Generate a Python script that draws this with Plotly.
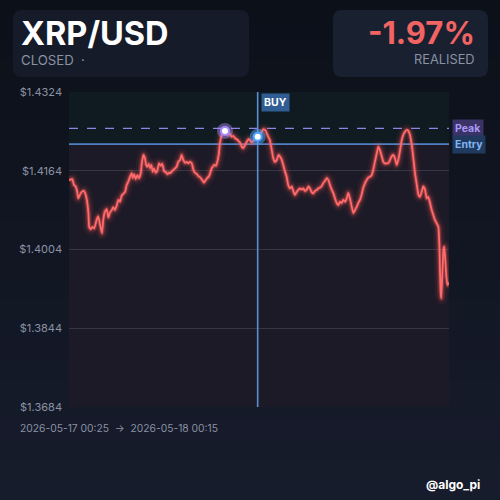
import pandas as pd
import plotly.graph_objects as go

# Price trace, minutes after the window start (2026-05-17 00:25)
minutes = [
    0, 12, 19, 25, 31, 35, 41, 48, 56, 61, 67, 73, 76, 82, 88, 95, 104, 110, 117, 124,
    129, 135, 142, 148, 154, 161, 167, 173, 180, 186, 192, 198, 204, 211, 217, 223, 230, 236, 240, 245,
    251, 257, 263, 270, 274, 280, 286, 290, 295, 300, 305, 310, 315, 320, 326, 332, 339, 345, 351, 358,
    365, 371, 377, 380, 386, 393, 399, 405, 411, 418, 424, 430, 437, 443, 449, 455, 462, 468, 474, 481,
    487, 493, 499, 508, 514, 520, 527, 531, 537, 541, 547, 553, 558, 564, 568, 575, 581, 587, 593, 599,
    606, 612, 618, 625, 631, 637, 644, 650, 656, 662, 669, 675, 681, 688, 694, 700, 710, 719, 725, 731,
    738, 744, 750, 756, 763, 769, 775, 782, 788, 794, 800, 806, 813, 819, 825, 832, 838, 844, 850, 857,
    863, 869, 876, 882, 888, 894, 901, 907, 913, 919, 926, 932, 938, 945, 951, 957, 963, 970, 976, 982,
    989, 995, 1001, 1007, 1013, 1020, 1026, 1032, 1039, 1045, 1051, 1057, 1064, 1070, 1076, 1083, 1089, 1095, 1101, 1107,
    1114, 1120, 1126, 1133, 1139, 1145, 1151, 1158, 1164, 1170, 1177, 1183, 1189, 1196, 1202, 1208, 1214, 1220, 1227, 1233,
    1239, 1246, 1252, 1258, 1264, 1271, 1277, 1283, 1290, 1296, 1302, 1309, 1315, 1321, 1327, 1333, 1340, 1346, 1352, 1359,
    1365, 1371, 1377, 1384, 1390, 1394, 1396, 1399, 1401, 1405, 1409, 1412, 1416, 1420, 1424, 1430,
]
prices = [
    1.4145, 1.4147, 1.4135, 1.4132, 1.4121, 1.4108, 1.4115, 1.4121, 1.4123, 1.4118, 1.4105, 1.4078, 1.4050, 1.4045, 1.4050, 1.4047, 1.4064, 1.4071, 1.4054, 1.4037,
    1.4064, 1.4081, 1.4086, 1.4069, 1.4079, 1.4084, 1.4090, 1.4084, 1.4094, 1.4105, 1.4101, 1.4113, 1.4117, 1.4121, 1.4135, 1.4142, 1.4152, 1.4159, 1.4149, 1.4157,
    1.4147, 1.4155, 1.4149, 1.4159, 1.4179, 1.4196, 1.4189, 1.4176, 1.4172, 1.4178, 1.4169, 1.4176, 1.4162, 1.4169, 1.4160, 1.4164, 1.4179, 1.4174, 1.4178, 1.4163,
    1.4161, 1.4157, 1.4160, 1.4159, 1.4162, 1.4166, 1.4169, 1.4172, 1.4182, 1.4186, 1.4196, 1.4186, 1.4180, 1.4182, 1.4179, 1.4182, 1.4179, 1.4166, 1.4160, 1.4157,
    1.4153, 1.4151, 1.4147, 1.4140, 1.4145, 1.4149, 1.4153, 1.4159, 1.4169, 1.4172, 1.4176, 1.4174, 1.4182, 1.4199, 1.4220, 1.4237, 1.4243, 1.4245, 1.4240, 1.4237,
    1.4239, 1.4233, 1.4235, 1.4230, 1.4228, 1.4225, 1.4221, 1.4213, 1.4210, 1.4216, 1.4223, 1.4228, 1.4226, 1.4221, 1.4225, 1.4228, 1.4233, 1.4237, 1.4243, 1.4248,
    1.4247, 1.4240, 1.4233, 1.4226, 1.4206, 1.4189, 1.4182, 1.4186, 1.4196, 1.4193, 1.4187, 1.4176, 1.4162, 1.4152, 1.4135, 1.4128, 1.4132, 1.4123, 1.4115, 1.4121,
    1.4125, 1.4128, 1.4126, 1.4128, 1.4123, 1.4125, 1.4132, 1.4128, 1.4121, 1.4118, 1.4123, 1.4125, 1.4128, 1.4130, 1.4133, 1.4139, 1.4143, 1.4149, 1.4145, 1.4135,
    1.4125, 1.4118, 1.4108, 1.4099, 1.4094, 1.4101, 1.4098, 1.4105, 1.4101, 1.4108, 1.4119, 1.4108, 1.4091, 1.4078, 1.4084, 1.4091, 1.4099, 1.4105, 1.4115, 1.4129,
    1.4139, 1.4145, 1.4150, 1.4152, 1.4155, 1.4166, 1.4182, 1.4199, 1.4213, 1.4206, 1.4193, 1.4182, 1.4179, 1.4179, 1.4180, 1.4186, 1.4193, 1.4196, 1.4189, 1.4176,
    1.4186, 1.4206, 1.4226, 1.4237, 1.4243, 1.4247, 1.4245, 1.4237, 1.4216, 1.4189, 1.4159, 1.4135, 1.4115, 1.4111, 1.4121, 1.4132, 1.4125, 1.4108, 1.4111, 1.4098,
    1.4084, 1.4074, 1.4064, 1.4057, 1.4050, 1.4010, 1.3962, 1.3915, 1.3905, 1.3956, 1.4003, 1.4010, 1.3983, 1.3949, 1.3932, 1.3937,
]

start = pd.Timestamp("2026-05-17 00:25")
end = pd.Timestamp("2026-05-18 00:15")
entry_minute = 710
entry_price = 1.4218
peak_price = 1.4250
y_ticks = [1.3684, 1.3844, 1.4004, 1.4164, 1.4324]
y_ticktext = ["$1.3684", "$1.3844", "$1.4004", "$1.4164", "$1.4324"]

FONT = "Inter"
RED = "#ff6b6b"
BLUE = "#5a8fd6"
PURPLE = "#8e84e6"
GREY_TXT = "#8a92a4"

times = start + pd.to_timedelta(minutes, unit="min")
entry_idx = minutes.index(entry_minute)
peak_idx = max(range(entry_idx), key=lambda i: prices[i])

# plot area in pixels: x 69..449, y 92..407
L, R, T, B = 69, 449, 92, 407


def px(x):
    return (x - L) / (R - L)


def py(y):
    return (B - y) / (B - T)


def rounded_rect(x0, y0, x1, y1, r):
    """Rounded rectangle path in paper coords from pixel box."""
    a, b, c, d = px(x0), py(y1), px(x1), py(y0)
    rx, ry = r / (R - L), r / (B - T)
    return (f"M {a + rx},{d} L {c - rx},{d} Q {c},{d} {c},{d - ry} "
            f"L {c},{b + ry} Q {c},{b} {c - rx},{b} L {a + rx},{b} "
            f"Q {a},{b} {a},{b + ry} L {a},{d - ry} Q {a},{d} {a + rx},{d} Z")


fig = go.Figure()

# glow under the price line
for w, op in [(12, 0.07), (7, 0.14), (4, 0.35)]:
    fig.add_trace(go.Scatter(x=times, y=prices, mode="lines",
                             line=dict(color=f"rgba(255,90,90,{op})", width=w, shape="spline", smoothing=0.4),
                             hoverinfo="skip", showlegend=False))
fig.add_trace(go.Scatter(x=times, y=prices, mode="lines",
                         line=dict(color=RED, width=1.8, shape="spline", smoothing=0.4),
                         showlegend=False))

# peak and entry markers
for idx, ring, glow in [(peak_idx, "#a78bfa", "rgba(167,139,250,0.45)"),
                        (entry_idx, "#4da3ff", "rgba(77,163,255,0.5)")]:
    fig.add_trace(go.Scatter(x=[times[idx]], y=[prices[idx]], mode="markers",
                             marker=dict(size=16, color=glow), hoverinfo="skip", showlegend=False))
    fig.add_trace(go.Scatter(x=[times[idx]], y=[prices[idx]], mode="markers",
                             marker=dict(size=8, color="white", line=dict(color=ring, width=2)),
                             showlegend=False))

shapes = []
# page background gradient, top to bottom
n_bands = 25
c0, c1 = (12, 16, 25), (23, 28, 44)
for i in range(n_bands):
    f = i / (n_bands - 1)
    col = tuple(round(c0[k] + (c1[k] - c0[k]) * f) for k in range(3))
    shapes.append(dict(type="rect", xref="paper", yref="paper", layer="below",
                       x0=px(0), x1=px(500), y0=py(500 * (i + 1) / n_bands), y1=py(500 * i / n_bands),
                       fillcolor=f"rgb{col}", line=dict(width=0)))
# header cards
shapes.append(dict(type="path", xref="paper", yref="paper", layer="below",
                   path=rounded_rect(13, 10, 249, 77, 9), fillcolor="#151b28", line=dict(width=0)))
shapes.append(dict(type="path", xref="paper", yref="paper", layer="below",
                   path=rounded_rect(333, 10, 488, 77, 9), fillcolor="#19202f", line=dict(width=0)))
# profit / loss zones
shapes.append(dict(type="rect", xref="paper", yref="y", layer="below", x0=0, x1=1,
                   y0=y_ticks[0], y1=entry_price, fillcolor="#1c1a26", line=dict(width=0)))
shapes.append(dict(type="rect", xref="paper", yref="y", layer="below", x0=0, x1=1,
                   y0=entry_price, y1=y_ticks[-1], fillcolor="#0f1a21", line=dict(width=0)))
# reference lines, kept under the traces so markers sit on top
shapes.append(dict(type="line", xref="paper", yref="y", x0=0, x1=1, y0=peak_price, y1=peak_price,
                   layer="between", line=dict(color=PURPLE, width=1.3, dash="dash")))
shapes.append(dict(type="line", xref="paper", yref="y", x0=0, x1=1, y0=entry_price, y1=entry_price,
                   layer="between", line=dict(color="#4f82c4", width=1.6)))
shapes.append(dict(type="line", xref="x", yref="y", x0=times[entry_idx], x1=times[entry_idx],
                   y0=y_ticks[0], y1=y_ticks[-1], layer="between", line=dict(color=BLUE, width=1.6)))

annotations = [
    dict(text="<b>XRP/USD</b>", x=px(19), y=py(34), xanchor="left", yanchor="middle",
         font=dict(size=32.5, color="white")),
    dict(text="CLOSED  ·", x=px(19), y=py(60), xanchor="left", yanchor="middle",
         font=dict(size=13.2, color=GREY_TXT)),
    dict(text="<b>-1.97%</b>", x=px(477), y=py(32), xanchor="right", yanchor="middle",
         font=dict(size=31, color="#f26464")),
    dict(text="REALISED", x=px(477), y=py(60), xanchor="right", yanchor="middle",
         font=dict(size=12.8, color=GREY_TXT)),
    dict(text=f"{start:%Y-%m-%d %H:%M}  →  {end:%Y-%m-%d %H:%M}", x=px(18), y=py(428),
         xanchor="left", yanchor="middle", font=dict(size=10.3, color=GREY_TXT)),
    dict(text="<b>@algo_pi</b>", x=px(482), y=py(484), xanchor="right", yanchor="middle",
         font=dict(size=12, color="white")),
    dict(text="<b>Peak</b>", x=px(452), y=peak_price, yref="y", xanchor="left", yanchor="middle",
         font=dict(size=10.5, color="#a898f4"), bgcolor="#3a3368", borderpad=2),
    dict(text="<b>Entry</b>", x=px(452), y=entry_price, yref="y", xanchor="left", yanchor="middle",
         font=dict(size=10.5, color="#80b4f2"), bgcolor="#1f3a5e", borderpad=2),
    dict(text="<b>BUY</b>", x=times[entry_idx], xref="x", y=py(102), xanchor="left", yanchor="middle",
         xshift=3, font=dict(size=10.5, color="white"), bgcolor="#2f5d94", borderpad=2),
]
for a in annotations:
    a.setdefault("xref", "paper")
    a.setdefault("yref", "paper")
    a["showarrow"] = False

fig.update_layout(
    width=500, height=500,
    margin=dict(l=L, r=500 - R, t=T, b=500 - B),
    paper_bgcolor="#121725", plot_bgcolor="#1c1a26",
    font=dict(family=FONT, color=GREY_TXT),
    shapes=shapes, annotations=annotations,
    showlegend=False,
)
fig.update_xaxes(range=[start, end], visible=False, showgrid=False)
fig.update_yaxes(range=[y_ticks[0], y_ticks[-1]], tickvals=y_ticks, ticktext=y_ticktext,
                 showgrid=True, gridcolor="#363645", gridwidth=1, zeroline=False, showline=False,
                 ticks="", ticklabelstandoff=6, tickfont=dict(size=11, color=GREY_TXT))

# drop the default page margin so the 500x500 figure fills the window
fig.write_html("out.html", config={"displayModeBar": False},
               post_script="document.body.style.margin='0';")
